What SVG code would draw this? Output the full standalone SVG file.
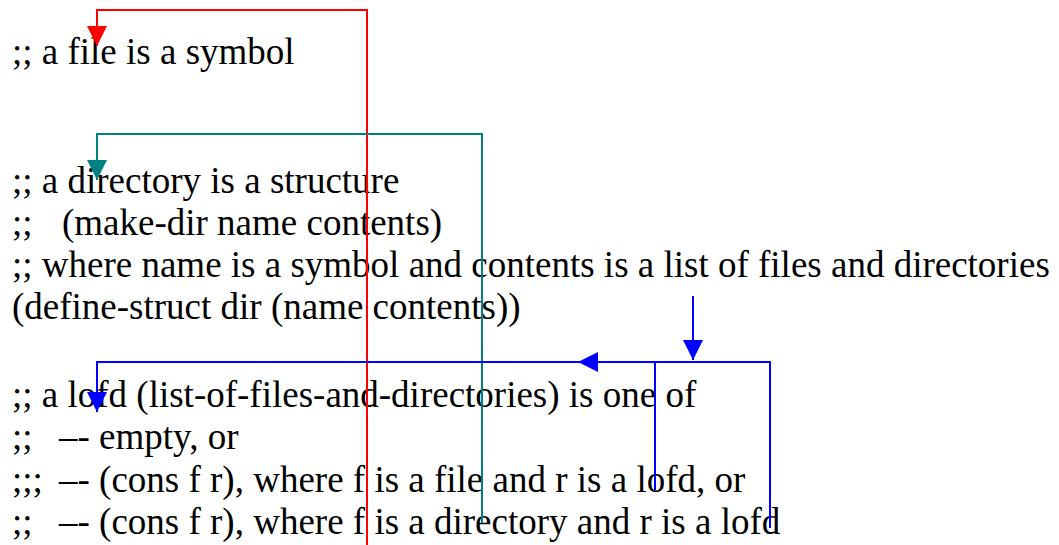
<svg xmlns="http://www.w3.org/2000/svg" width="1059" height="545" viewBox="0 0 1059 545">
<style>
text{font-family:"Liberation Serif","Times New Roman",serif;font-size:37px;fill:#000;white-space:pre}
.c{fill:none;stroke-width:2}
</style>
<defs>
<marker id="ar" markerUnits="userSpaceOnUse" markerWidth="20" markerHeight="20" refX="20" refY="10" orient="auto"><path d="M0,0 L20,10 L0,20 z" fill="#ff0000"/></marker>
<marker id="at" markerUnits="userSpaceOnUse" markerWidth="20" markerHeight="20" refX="20" refY="10" orient="auto"><path d="M0,0 L20,10 L0,20 z" fill="#008080"/></marker>
<marker id="ab" markerUnits="userSpaceOnUse" markerWidth="20" markerHeight="20" refX="20" refY="10" orient="auto"><path d="M0,0 L20,10 L0,20 z" fill="#0000ff"/></marker>
</defs>
<rect width="1059" height="545" fill="#fff"/>
<g id="file"><text x="12" y="64">;; a file is a symbol</text></g>
<g id="directory">
<text x="12" y="193">;; a directory is a structure</text>
<text y="235"><tspan x="12">;;</tspan><tspan x="62">(make-dir name contents)</tspan></text>
<text x="12" y="277">;; where name is a symbol and contents is a list of files and directories</text>
<text x="12" y="319">(define-struct dir (name contents))</text>
</g>
<g id="lofd">
<text x="12" y="407">;; a lofd (list-of-files-and-directories) is one of</text>
<text y="449"><tspan x="12">;;</tspan><tspan x="59">–- empty, or</tspan></text>
<text y="492"><tspan x="12">;;;</tspan><tspan x="59">–- (cons f r), where f is a file and r is a lofd, or</tspan></text>
<text y="534"><tspan x="12">;;</tspan><tspan x="59">–- (cons f r), where f is a directory and r is a lofd</tspan></text>
</g>
<g id="connectors">
<path class="c" stroke="#ff0000" d="M367,545 V10 H97 V46" marker-end="url(#ar)"/>
<path class="c" stroke="#008080" d="M482,523 V134 H97 V180" marker-end="url(#at)"/>
<path class="c" stroke="#0000ff" d="M770,528 V362 H97 V412" marker-end="url(#ab)"/>
<path class="c" stroke="#0000ff" d="M655,490 V362 H578" marker-end="url(#ab)"/>
<path class="c" stroke="#0000ff" d="M693,296 V360" marker-end="url(#ab)"/>
</g>
</svg>
